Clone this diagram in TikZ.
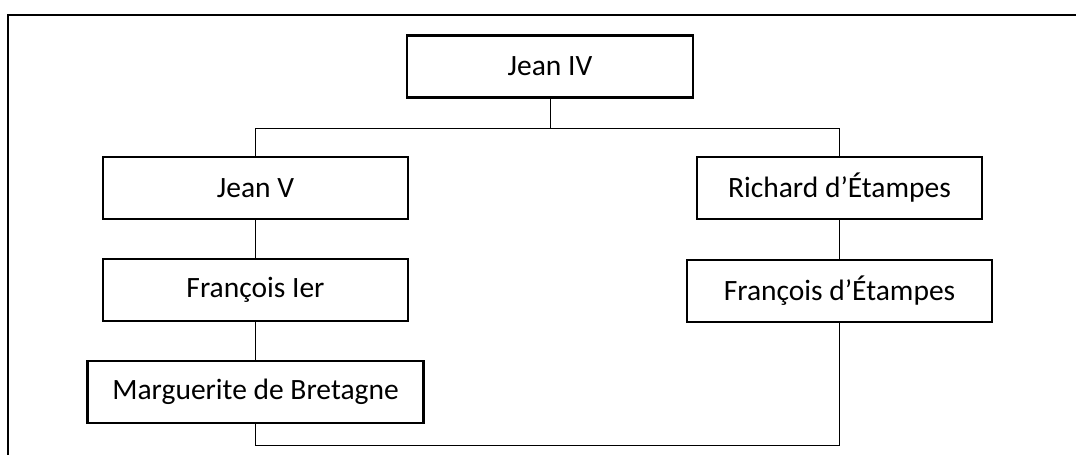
\documentclass[tikz,border=0pt]{standalone}
\usepackage{fontspec}
\setmainfont{Carlito}
\usepackage{tikz}

\tikzset{
  person/.style={draw, line width=2.2pt, minimum height=62pt, inner sep=0pt,
    font=\fontsize{29.5}{34}\selectfont},
  link/.style={line width=1pt}
}

\begin{document}
\begin{tikzpicture}[x=1pt,y=-1pt]
  \useasboundingbox (0,0) rectangle (1076,455);

  % Outer frame (top and left edges)
  \draw[line width=1.5pt] (8,455) -- (8,15) -- (1076,15);

  % People
  \node[person, minimum width=286pt] (jeanIV) at (550,66.5) {Jean IV};
  \node[person, minimum width=305pt] (jeanV) at (255.5,188) {Jean V};
  \node[person, minimum width=305pt] (francois) at (255.5,290) {François Ier};
  \node[person, minimum width=336pt] (marguerite) at (255.5,392) {Marguerite de Bretagne};
  \node[person, minimum width=285pt] (richard) at (839.5,188) {Richard d’Étampes};
  \node[person, minimum width=305pt] (francoisE) at (839.5,291) {François d’Étampes};

  % Branch points
  \coordinate (fork) at (550,128);
  \coordinate (base) at (550,445);

  % Lines
  \draw[link] (jeanIV) -- (fork);
  \draw[link] (fork) -| (jeanV.north);
  \draw[link] (fork) -| (richard.north);
  \draw[link] (jeanV) -- (francois);
  \draw[link] (francois) -- (marguerite);
  \draw[link] (richard) -- (francoisE);
  \draw[link] (marguerite.south) -- (marguerite.south |- base) -- (francoisE.south |- base) -- (francoisE.south);
\end{tikzpicture}
\end{document}
